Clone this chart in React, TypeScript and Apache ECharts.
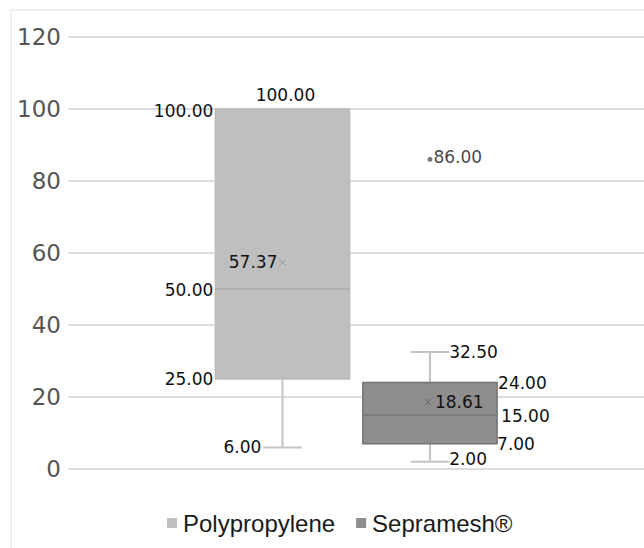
import React, { useEffect, useRef } from "react";
import * as echarts from "echarts";

const categories = ["Polypropylene", "Sepramesh®"];
const minValues = [6, 2];
const q1Values = [25, 7];
const medianValues = [50, 15];
const q3Values = [100, 24];
const maxValues = [100, 32.5];
const meanValues = [57.37, 18.61];
const outlierValues: number[][] = [[], [86]];
const yMin = 0;
const yMax = 120;
const yInterval = 20;

const fills = ["#bfbfbf", "#8e8e8e"];
const borders = ["#bcbcbc", "#727272"];
const medianColors = ["#a9a9a9", "#747474"];
const meanColors = ["#9a9a9a", "#666666"];
const sides: ("left" | "right")[] = ["left", "right"];

const LABEL_FONT = '17px "DejaVu Sans", Verdana, sans-serif';
const LABEL_COLOR = "#111111";
const fmt = (v: number) => v.toFixed(2);

function makeRender(i: number) {
  return (params: any, api: any) => {
    const x = api.value(0);
    const vMin = api.value(1);
    const vQ1 = api.value(2);
    const vMed = api.value(3);
    const vQ3 = api.value(4);
    const vMax = api.value(5);
    const vMean = api.value(6);
    const unit = api.size([1, 0])[0];
    const cx = api.coord([x, 0])[0];
    const bw = unit * 0.91;
    const half = bw / 2;
    const capHalf = unit * 0.13;
    const y = (v: number) => api.coord([x, v])[1];
    const yMinP = y(vMin);
    const yQ1P = y(vQ1);
    const yMedP = y(vMed);
    const yQ3P = y(vQ3);
    const yMaxP = y(vMax);
    const yMeanP = y(vMean);
    const whisk = { stroke: "#c4c4c4", lineWidth: 2 };
    const side = sides[i];
    const children: any[] = [];
    children.push({ type: "line", shape: { x1: cx, y1: yQ1P, x2: cx, y2: yMinP }, style: whisk });
    children.push({ type: "line", shape: { x1: cx - capHalf, y1: yMinP, x2: cx + capHalf, y2: yMinP }, style: whisk });
    if (vMax > vQ3) {
      children.push({ type: "line", shape: { x1: cx, y1: yQ3P, x2: cx, y2: yMaxP }, style: whisk });
      children.push({ type: "line", shape: { x1: cx - capHalf, y1: yMaxP, x2: cx + capHalf, y2: yMaxP }, style: whisk });
    }
    children.push({
      type: "rect",
      shape: { x: cx - half, y: yQ3P, width: bw, height: yQ1P - yQ3P },
      style: { fill: fills[i], stroke: borders[i], lineWidth: 1.5 },
    });
    children.push({
      type: "line",
      shape: { x1: cx - half, y1: yMedP, x2: cx + half, y2: yMedP },
      style: { stroke: medianColors[i], lineWidth: 1.5 },
    });
    const mx = side === "left" ? cx : cx - 2;
    children.push({ type: "line", shape: { x1: mx - 3, y1: yMeanP - 3, x2: mx + 3, y2: yMeanP + 3 }, style: { stroke: meanColors[i], lineWidth: 1 } });
    children.push({ type: "line", shape: { x1: mx - 3, y1: yMeanP + 3, x2: mx + 3, y2: yMeanP - 3 }, style: { stroke: meanColors[i], lineWidth: 1 } });

    const txt = (text: string, tx: number, ty: number, align: string) => ({
      type: "text",
      x: tx,
      y: ty,
      style: { text, fill: LABEL_COLOR, font: LABEL_FONT, align, verticalAlign: "middle" },
    });

    if (side === "left") {
      children.push(txt(fmt(vQ3), cx - half - 2, yQ3P + 2, "right"));
      children.push(txt(fmt(vMed), cx - half - 2, yMedP + 1, "right"));
      children.push(txt(fmt(vQ1), cx - half - 2, yQ1P, "right"));
      children.push(txt(fmt(vMin), cx - capHalf - 2, yMinP, "right"));
      if (vMax > vQ3) children.push(txt(fmt(vMax), cx - capHalf - 2, yMaxP, "right"));
      else children.push(txt(fmt(vMax), cx + 3, yMaxP - 14, "center"));
      children.push(txt(fmt(vMean), mx - 5, yMeanP, "right"));
    } else {
      children.push(txt(fmt(vQ3), cx + half + 1, yQ3P, "left"));
      children.push(txt(fmt(vMed), cx + half + 4, yMedP + 1, "left"));
      children.push(txt(fmt(vQ1), cx + half, yQ1P, "left"));
      children.push(txt(fmt(vMin), cx + capHalf, yMinP - 3, "left"));
      children.push(txt(fmt(vMax), cx + capHalf, yMaxP, "left"));
      children.push(txt(fmt(vMean), mx + 7, yMeanP, "left"));
    }
    return { type: "group", children };
  };
}

export default function App() {
  const ref = useRef<HTMLDivElement>(null);
  useEffect(() => {
    if (!ref.current) return;
    const chart = echarts.init(ref.current, undefined, { renderer: "svg" });
    const boxSeries = categories.map((name, i) => ({
      type: "custom",
      name,
      itemStyle: { color: fills[i] },
      renderItem: makeRender(i),
      encode: { x: 0, y: [1, 2, 3, 4, 5, 6] },
      data: [[i, minValues[i], q1Values[i], medianValues[i], q3Values[i], maxValues[i], meanValues[i]]],
      z: 2,
    }));
    const outlierData: number[][] = [];
    outlierValues.forEach((arr, i) => arr.forEach((v) => outlierData.push([i, v])));
    const option: any = {
      animation: false,
      backgroundColor: "#ffffff",
      graphic: [
        {
          type: "rect",
          shape: { x: 11, y: 10, width: 700, height: 600 },
          style: { fill: "none", stroke: "#efefef", lineWidth: 2 },
          silent: true,
          z: -1,
        },
      ],
      grid: { left: 68, right: 0, top: 37, bottom: 79 },
      xAxis: {
        type: "value",
        min: -1.454,
        max: 2.451,
        show: false,
        splitLine: { show: false },
      },
      yAxis: {
        type: "value",
        min: yMin,
        max: yMax,
        interval: yInterval,
        axisLine: { show: false },
        axisTick: { show: false },
        axisLabel: {
          fontSize: 23,
          fontFamily: '"DejaVu Sans", Verdana, sans-serif',
          color: "#555555",
          margin: 7,
        },
        splitLine: { lineStyle: { color: "#dcdcdc", width: 2 } },
      },
      legend: {
        left: 162,
        top: 506,
        icon: "rect",
        itemWidth: 10,
        itemHeight: 10,
        itemGap: 21,
        textStyle: {
          fontFamily: '"Liberation Sans", Arial, sans-serif',
          fontSize: 24,
          color: "#1a1a1a",
          padding: [0, 0, 0, 1],
        },
        data: categories.map((name, i) => ({ name, itemStyle: { color: fills[i] } })),
      },
      series: [
        ...boxSeries,
        {
          type: "scatter",
          name: "outliers",
          data: outlierData,
          symbol: "circle",
          symbolSize: 5,
          itemStyle: { color: "#555555" },
          label: {
            show: true,
            position: "right",
            distance: 1,
            formatter: (p: any) => fmt(p.value[1]),
            fontSize: 17,
            fontFamily: '"DejaVu Sans", Verdana, sans-serif',
            color: LABEL_COLOR,
            offset: [0, -2],
          },
          z: 3,
        },
      ],
    };
    chart.setOption(option);
    return () => chart.dispose();
  }, []);
  return (
    <div
      ref={ref}
      style={{ position: "fixed", left: 0, top: 0, width: 644, height: 548, background: "#fff" }}
    />
  );
}
